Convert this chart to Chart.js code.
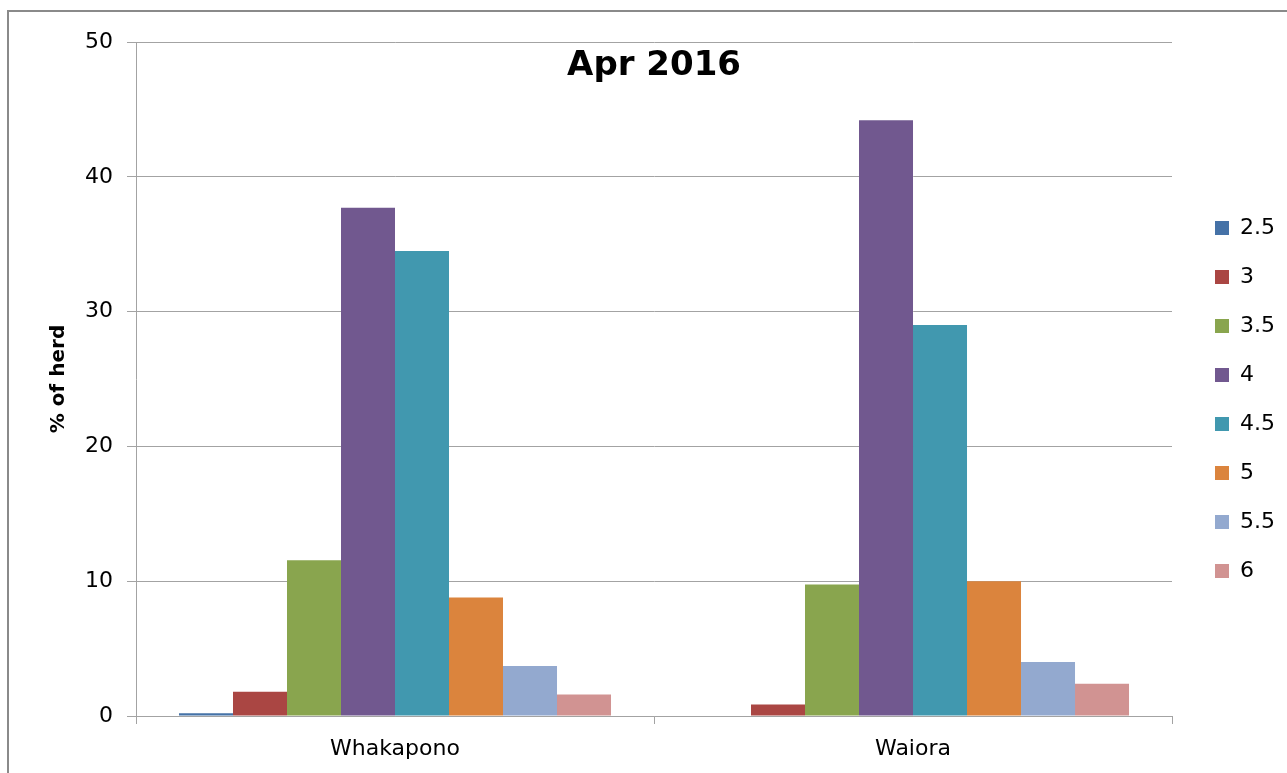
<!DOCTYPE html>
<html>
<head>
<meta charset="utf-8">
<script src="https://cdn.jsdelivr.net/npm/chart.js@4/dist/chart.umd.min.js"></script>
<style>
  html, body { margin: 0; padding: 0; background: #fff; overflow: hidden; }
  #wrap { position: relative; width: 1287px; height: 773px; }
  #frame { position: absolute; left: 7px; top: 10px; width: 1300px; height: 800px; border: 2px solid #8a8a8a; box-sizing: border-box; }
  #chart { position: absolute; left: 0; top: 0; }
</style>
</head>
<body>
<div id="wrap">
  <div id="frame"></div>
  <canvas id="chart" width="1287" height="773"></canvas>
</div>
<script>
// data (% of herd per condition score)
var farms = ["Whakapono", "Waiora"];
var scores = ["2.5", "3", "3.5", "4", "4.5", "5", "5.5", "6"];
var whakapono = [0.2, 1.8, 11.55, 37.7, 34.5, 8.8, 3.7, 1.6];
var waiora = [0, 0.85, 9.75, 44.2, 29.0, 10.0, 4.0, 2.4];
var yTicks = [0, 10, 20, 30, 40, 50];

var colours = ["#4572a7", "#aa4643", "#89a54e", "#71588f", "#4198af", "#db843d", "#93a9cf", "#d19392"];
var titleText = "Apr 2016";
var font = '"DejaVu Sans", sans-serif';
var gridGrey = "#a3a3a3";

var datasets = [];
for (var i = 0; i < scores.length; i++) {
  datasets.push({
    label: scores[i],
    data: [whakapono[i], waiora[i]],
    backgroundColor: colours[i],
    borderWidth: 0,
    categoryPercentage: 0.834,
    barPercentage: 1
  });
}

// title sits inside the plot, excel style
var overlayTitle = {
  id: "overlayTitle",
  afterDraw: function(chart) {
    var ctx = chart.ctx, a = chart.chartArea;
    ctx.save();
    ctx.font = "bold 34px " + font;
    ctx.fillStyle = "#000";
    ctx.textAlign = "center";
    ctx.textBaseline = "alphabetic";
    ctx.fillText(titleText, (a.left + a.right) / 2, a.top + 33);
    ctx.restore();
  }
};

// push legend a bit right/up of where chart.js puts it
var legendNudge = {
  id: "legendNudge",
  afterLayout: function(chart) {
    var lg = chart.legend;
    lg.left += 16; lg.right += 16;
    lg.top -= 8; lg.bottom -= 8;
  }
};

var ctx = document.getElementById("chart").getContext("2d");
var myChart = new Chart(ctx, {
  type: "bar",
  data: { labels: farms, datasets: datasets },
  plugins: [overlayTitle, legendNudge],
  options: {
    responsive: false,
    animation: false,
    layout: { padding: { left: 0, top: 42, right: 18, bottom: 0 } },
    plugins: {
      tooltip: { enabled: false },
      title: { display: false },
      legend: {
        position: "right",
        labels: {
          boxWidth: 14,
          boxHeight: 14,
          padding: 27,
          color: "#000",
          font: { family: font, size: 22 }
        }
      }
    },
    scales: {
      x: {
        offset: true,
        grid: { display: true, offset: true, drawOnChartArea: false, drawTicks: true, tickLength: 8, color: gridGrey },
        border: { display: true, color: gridGrey, width: 1 },
        ticks: { color: "#000", padding: 12, font: { family: font, size: 22 } },
        afterFit: function(scale) { scale.height = 57; }
      },
      y: {
        min: 0,
        max: 50,
        afterBuildTicks: function(scale) {
          scale.ticks = yTicks.map(function(v) { return { value: v }; });
        },
        grid: { color: gridGrey, tickLength: 9, lineWidth: 1 },
        border: { display: true, color: gridGrey, width: 1 },
        ticks: { color: "#000", padding: 14, font: { family: font, size: 22 } },
        title: {
          display: true,
          text: "% of herd",
          color: "#000",
          padding: { top: 47, bottom: 0 },
          font: { family: font, size: 20, weight: "bold" }
        },
        afterFit: function(scale) { scale.width = 136; }
      }
    }
  }
});
</script>
</body>
</html>
